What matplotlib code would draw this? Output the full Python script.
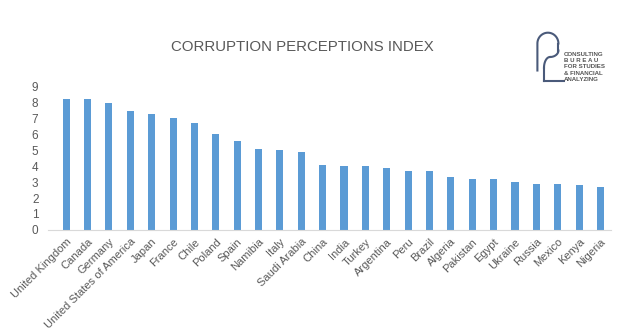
import matplotlib.pyplot as plt
import numpy as np

countries = ['United Kingdom', 'Canada', 'Germany', 'United States of America', 'Japan',
             'France', 'Chile', 'Poland', 'Spain', 'Namibia', 'Italy', 'Saudi Arabia',
             'China', 'India', 'Turkey', 'Argentina', 'Peru', 'Brazil', 'Algeria',
             'Pakistan', 'Egypt', 'Ukraine', 'Russia', 'Mexico', 'Kenya', 'Nigeria']
scores = [8.2, 8.2, 8.0, 7.5, 7.3, 7.0, 6.7, 6.0, 5.6, 5.1, 5.0, 4.9,
          4.1, 4.0, 4.0, 3.9, 3.7, 3.7, 3.3, 3.2, 3.2, 3.0, 2.9, 2.9, 2.8, 2.7]
yticks = list(range(0, 10))

plt.rcParams['font.family'] = ['Liberation Sans', 'DejaVu Sans']
grey = '#595959'

fig = plt.figure(figsize=(6.18, 3.36), dpi=100)
ax = fig.add_axes([0.078, 0.316, 0.911, 0.426])

x = np.arange(len(countries))
ax.bar(x, scores, width=0.33, color='#5b9bd5')
ax.set_xlim(-0.84, len(countries) - 0.5)
ax.set_ylim(0, 9)
ax.set_yticks(yticks)
ax.set_xticks(x)
ax.set_xticklabels(countries, rotation=45, ha='right', rotation_mode='anchor')
ax.tick_params(axis='x', length=0, colors=grey, labelsize=8, pad=5)
ax.tick_params(axis='y', length=0, colors=grey, labelsize=8.5, pad=7)
for s in ['top', 'right', 'left']:
    ax.spines[s].set_visible(False)
ax.spines['bottom'].set_color('#d9d9d9')

fig.text(0.489, 0.86, 'CORRUPTION PERCEPTIONS INDEX', ha='center', va='center',
         fontsize=10.8, color=grey)

# logo
lc = '#4a5a7a'
lax = fig.add_axes([535 / 618, 1 - 84 / 336, 30 / 618, 54 / 336])
lax.set_xlim(0, 1)
lax.set_ylim(0, 1)
lax.axis('off')
t = np.linspace(np.pi, 0, 50)
lax.plot(np.r_[0.08, 0.08, 0.08 + 0.35 * (1 + np.cos(t))],
         np.r_[0.25, 0.75, 0.75 + 0.2 * np.sin(t)], color=lc, lw=1.5)
lax.plot([0.78, 0.78], [0.75, 0.62], color=lc, lw=1.5)
t2 = np.linspace(0, -np.pi / 2, 30)
lax.plot(0.5 + 0.28 * np.cos(t2), 0.62 + 0.12 * np.sin(t2), color=lc, lw=1.5)
t3 = np.linspace(np.pi / 2, np.pi, 20)
lax.plot(0.5 + 0.2 * np.cos(t3), 0.3 + 0.2 * np.sin(t3), color=lc, lw=1.5)
lax.plot([0.3, 0.3], [0.3, 0.06], color=lc, lw=1.5)
lax.plot([0.3, 0.98], [0.06, 0.06], color=lc, lw=1.5)

fig.text(564 / 618, 1 - 67 / 336, 'CONSULTING\nB U R E A U\nFOR STUDIES\n& FINANCIAL\nANALYZING',
         ha='left', va='center', fontsize=4.4, fontweight='bold', color='#555555',
         linespacing=1.3)

fig.savefig('out.png', dpi=100)
